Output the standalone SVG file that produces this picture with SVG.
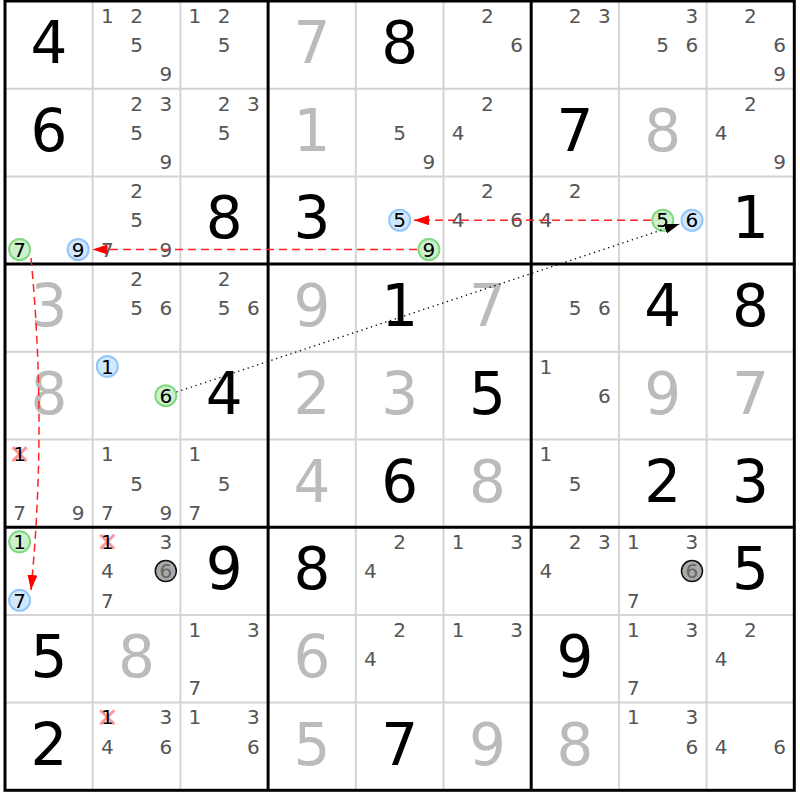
<svg xmlns="http://www.w3.org/2000/svg" width="800" height="800" viewBox="0 0 800 800">
<style>
text{font-family:"DejaVu Sans","Verdana",sans-serif;text-anchor:middle}
.g{font-size:58px;fill:#000}
.s{font-size:58px;fill:#bbb}
.c{font-size:20px;fill:#555}
.h{font-size:20px;fill:#000}
.gc{font-size:20px;fill:#666}
.thin{stroke:#d4d4d4;stroke-width:2;fill:none}
.thick{stroke:#000;stroke-width:3;fill:none}
.cg{fill:#cdf0cd;stroke:#80d880;stroke-width:2}
.cb{fill:#d2e8ff;stroke:#92c6f6;stroke-width:2}
.cy{fill:#aaa;stroke:#111;stroke-width:1.5}
.x{stroke:#f99;stroke-width:3;fill:none}
.red{stroke:#f22;stroke-width:1.5;fill:none;stroke-dasharray:8 5}
.dot{stroke:#000;stroke-width:1.3;fill:none;stroke-dasharray:1.3 3.7}
</style>
<defs>
<marker id="ar" markerUnits="userSpaceOnUse" markerWidth="16" markerHeight="12" refX="15" refY="5" orient="auto"><path d="M0,0 L15,5 L0,10 z" fill="#f00"/></marker>
<marker id="ak" markerUnits="userSpaceOnUse" markerWidth="16" markerHeight="12" refX="15" refY="5" orient="auto"><path d="M0,0 L15,5 L0,10 z" fill="#000"/></marker>
</defs>
<rect x="0" y="0" width="800" height="800" fill="#fff"/>
<g id="grid">
<path class="thin" d="M92.7,1V790.3M180.4,1V790.3M355.8,1V790.3M443.5,1V790.3M618.9,1V790.3M706.6,1V790.3M5,88.7H794.3M5,176.4H794.3M5,351.8H794.3M5,439.5H794.3M5,614.9H794.3M5,702.6H794.3"/>
<path class="thick" d="M268.1,1V790.3M531.2,1V790.3M5,264.1H794.3M5,527.2H794.3"/>
<rect class="thick" x="5" y="1" width="789.3" height="789.3"/>
</g>
<!-- Row 1 -->
<g id="r1c1" transform="translate(5,1)"><text class="g" x="43.85" y="62">4</text></g>
<g id="r1c2" transform="translate(92.7,1)"><text class="c" x="14.6" y="21.9">1</text><text class="c" x="43.85" y="21.9">2</text><text class="c" x="43.85" y="51.1">5</text><text class="c" x="73.1" y="80.4">9</text></g>
<g id="r1c3" transform="translate(180.4,1)"><text class="c" x="14.6" y="21.9">1</text><text class="c" x="43.85" y="21.9">2</text><text class="c" x="43.85" y="51.1">5</text></g>
<g id="r1c4" transform="translate(268.1,1)"><text class="s" x="43.85" y="62">7</text></g>
<g id="r1c5" transform="translate(355.8,1)"><text class="g" x="43.85" y="62">8</text></g>
<g id="r1c6" transform="translate(443.5,1)"><text class="c" x="43.85" y="21.9">2</text><text class="c" x="73.1" y="51.1">6</text></g>
<g id="r1c7" transform="translate(531.2,1)"><text class="c" x="43.85" y="21.9">2</text><text class="c" x="73.1" y="21.9">3</text></g>
<g id="r1c8" transform="translate(618.9,1)"><text class="c" x="73.1" y="21.9">3</text><text class="c" x="43.85" y="51.1">5</text><text class="c" x="73.1" y="51.1">6</text></g>
<g id="r1c9" transform="translate(706.6,1)"><text class="c" x="43.85" y="21.9">2</text><text class="c" x="73.1" y="51.1">6</text><text class="c" x="73.1" y="80.4">9</text></g>
<!-- Row 2 -->
<g id="r2c1" transform="translate(5,88.7)"><text class="g" x="43.85" y="62">6</text></g>
<g id="r2c2" transform="translate(92.7,88.7)"><text class="c" x="43.85" y="21.9">2</text><text class="c" x="73.1" y="21.9">3</text><text class="c" x="43.85" y="51.1">5</text><text class="c" x="73.1" y="80.4">9</text></g>
<g id="r2c3" transform="translate(180.4,88.7)"><text class="c" x="43.85" y="21.9">2</text><text class="c" x="73.1" y="21.9">3</text><text class="c" x="43.85" y="51.1">5</text></g>
<g id="r2c4" transform="translate(268.1,88.7)"><text class="s" x="43.85" y="62">1</text></g>
<g id="r2c5" transform="translate(355.8,88.7)"><text class="c" x="43.85" y="51.1">5</text><text class="c" x="73.1" y="80.4">9</text></g>
<g id="r2c6" transform="translate(443.5,88.7)"><text class="c" x="43.85" y="21.9">2</text><text class="c" x="14.6" y="51.1">4</text></g>
<g id="r2c7" transform="translate(531.2,88.7)"><text class="g" x="43.85" y="62">7</text></g>
<g id="r2c8" transform="translate(618.9,88.7)"><text class="s" x="43.85" y="62">8</text></g>
<g id="r2c9" transform="translate(706.6,88.7)"><text class="c" x="43.85" y="21.9">2</text><text class="c" x="14.6" y="51.1">4</text><text class="c" x="73.1" y="80.4">9</text></g>
<!-- Row 3 -->
<g id="r3c1" transform="translate(5,176.4)"><circle class="cg" cx="14.6" cy="73.1" r="10.5"/><text class="h" x="14.6" y="80.4">7</text><circle class="cb" cx="73.1" cy="73.1" r="10.5"/><text class="h" x="73.1" y="80.4">9</text></g>
<g id="r3c2" transform="translate(92.7,176.4)"><text class="c" x="43.85" y="21.9">2</text><text class="c" x="43.85" y="51.1">5</text><text class="c" x="14.6" y="80.4">7</text><text class="c" x="73.1" y="80.4">9</text></g>
<g id="r3c3" transform="translate(180.4,176.4)"><text class="g" x="43.85" y="62">8</text></g>
<g id="r3c4" transform="translate(268.1,176.4)"><text class="g" x="43.85" y="62">3</text></g>
<g id="r3c5" transform="translate(355.8,176.4)"><circle class="cb" cx="43.85" cy="43.85" r="10.5"/><text class="h" x="43.85" y="51.1">5</text><circle class="cg" cx="73.1" cy="73.1" r="10.5"/><text class="h" x="73.1" y="80.4">9</text></g>
<g id="r3c6" transform="translate(443.5,176.4)"><text class="c" x="43.85" y="21.9">2</text><text class="c" x="14.6" y="51.1">4</text><text class="c" x="73.1" y="51.1">6</text></g>
<g id="r3c7" transform="translate(531.2,176.4)"><text class="c" x="43.85" y="21.9">2</text><text class="c" x="14.6" y="51.1">4</text></g>
<g id="r3c8" transform="translate(618.9,176.4)"><circle class="cg" cx="43.85" cy="43.85" r="10.5"/><text class="h" x="43.85" y="51.1">5</text><circle class="cb" cx="73.1" cy="43.85" r="10.5"/><text class="h" x="73.1" y="51.1">6</text></g>
<g id="r3c9" transform="translate(706.6,176.4)"><text class="g" x="43.85" y="62">1</text></g>
<!-- Row 4 -->
<g id="r4c1" transform="translate(5,264.1)"><text class="s" x="43.85" y="62">3</text></g>
<g id="r4c2" transform="translate(92.7,264.1)"><text class="c" x="43.85" y="21.9">2</text><text class="c" x="43.85" y="51.1">5</text><text class="c" x="73.1" y="51.1">6</text></g>
<g id="r4c3" transform="translate(180.4,264.1)"><text class="c" x="43.85" y="21.9">2</text><text class="c" x="43.85" y="51.1">5</text><text class="c" x="73.1" y="51.1">6</text></g>
<g id="r4c4" transform="translate(268.1,264.1)"><text class="s" x="43.85" y="62">9</text></g>
<g id="r4c5" transform="translate(355.8,264.1)"><text class="g" x="43.85" y="62">1</text></g>
<g id="r4c6" transform="translate(443.5,264.1)"><text class="s" x="43.85" y="62">7</text></g>
<g id="r4c7" transform="translate(531.2,264.1)"><text class="c" x="43.85" y="51.1">5</text><text class="c" x="73.1" y="51.1">6</text></g>
<g id="r4c8" transform="translate(618.9,264.1)"><text class="g" x="43.85" y="62">4</text></g>
<g id="r4c9" transform="translate(706.6,264.1)"><text class="g" x="43.85" y="62">8</text></g>
<!-- Row 5 -->
<g id="r5c1" transform="translate(5,351.8)"><text class="s" x="43.85" y="62">8</text></g>
<g id="r5c2" transform="translate(92.7,351.8)"><circle class="cb" cx="14.6" cy="14.6" r="10.5"/><text class="h" x="14.6" y="21.9">1</text><circle class="cg" cx="73.1" cy="43.85" r="10.5"/><text class="h" x="73.1" y="51.1">6</text></g>
<g id="r5c3" transform="translate(180.4,351.8)"><text class="g" x="43.85" y="62">4</text></g>
<g id="r5c4" transform="translate(268.1,351.8)"><text class="s" x="43.85" y="62">2</text></g>
<g id="r5c5" transform="translate(355.8,351.8)"><text class="s" x="43.85" y="62">3</text></g>
<g id="r5c6" transform="translate(443.5,351.8)"><text class="g" x="43.85" y="62">5</text></g>
<g id="r5c7" transform="translate(531.2,351.8)"><text class="c" x="14.6" y="21.9">1</text><text class="c" x="73.1" y="51.1">6</text></g>
<g id="r5c8" transform="translate(618.9,351.8)"><text class="s" x="43.85" y="62">9</text></g>
<g id="r5c9" transform="translate(706.6,351.8)"><text class="s" x="43.85" y="62">7</text></g>
<!-- Row 6 -->
<g id="r6c1" transform="translate(5,439.5)"><path class="x" d="M7.6,7.6L21.6,21.6M21.6,7.6L7.6,21.6"/><text class="h" x="14.6" y="21.9">1</text><text class="c" x="14.6" y="80.4">7</text><text class="c" x="73.1" y="80.4">9</text></g>
<g id="r6c2" transform="translate(92.7,439.5)"><text class="c" x="14.6" y="21.9">1</text><text class="c" x="43.85" y="51.1">5</text><text class="c" x="14.6" y="80.4">7</text><text class="c" x="73.1" y="80.4">9</text></g>
<g id="r6c3" transform="translate(180.4,439.5)"><text class="c" x="14.6" y="21.9">1</text><text class="c" x="43.85" y="51.1">5</text><text class="c" x="14.6" y="80.4">7</text></g>
<g id="r6c4" transform="translate(268.1,439.5)"><text class="s" x="43.85" y="62">4</text></g>
<g id="r6c5" transform="translate(355.8,439.5)"><text class="g" x="43.85" y="62">6</text></g>
<g id="r6c6" transform="translate(443.5,439.5)"><text class="s" x="43.85" y="62">8</text></g>
<g id="r6c7" transform="translate(531.2,439.5)"><text class="c" x="14.6" y="21.9">1</text><text class="c" x="43.85" y="51.1">5</text></g>
<g id="r6c8" transform="translate(618.9,439.5)"><text class="g" x="43.85" y="62">2</text></g>
<g id="r6c9" transform="translate(706.6,439.5)"><text class="g" x="43.85" y="62">3</text></g>
<!-- Row 7 -->
<g id="r7c1" transform="translate(5,527.2)"><circle class="cg" cx="14.6" cy="14.6" r="10.5"/><text class="h" x="14.6" y="21.9">1</text><circle class="cb" cx="14.6" cy="73.1" r="10.5"/><text class="h" x="14.6" y="80.4">7</text></g>
<g id="r7c2" transform="translate(92.7,527.2)"><path class="x" d="M7.6,7.6L21.6,21.6M21.6,7.6L7.6,21.6"/><text class="h" x="14.6" y="21.9">1</text><text class="c" x="73.1" y="21.9">3</text><text class="c" x="14.6" y="51.1">4</text><circle class="cy" cx="73.1" cy="43.85" r="10.5"/><text class="gc" x="73.1" y="51.1">6</text><text class="c" x="14.6" y="80.4">7</text></g>
<g id="r7c3" transform="translate(180.4,527.2)"><text class="g" x="43.85" y="62">9</text></g>
<g id="r7c4" transform="translate(268.1,527.2)"><text class="g" x="43.85" y="62">8</text></g>
<g id="r7c5" transform="translate(355.8,527.2)"><text class="c" x="43.85" y="21.9">2</text><text class="c" x="14.6" y="51.1">4</text></g>
<g id="r7c6" transform="translate(443.5,527.2)"><text class="c" x="14.6" y="21.9">1</text><text class="c" x="73.1" y="21.9">3</text></g>
<g id="r7c7" transform="translate(531.2,527.2)"><text class="c" x="43.85" y="21.9">2</text><text class="c" x="73.1" y="21.9">3</text><text class="c" x="14.6" y="51.1">4</text></g>
<g id="r7c8" transform="translate(618.9,527.2)"><text class="c" x="14.6" y="21.9">1</text><text class="c" x="73.1" y="21.9">3</text><circle class="cy" cx="73.1" cy="43.85" r="10.5"/><text class="gc" x="73.1" y="51.1">6</text><text class="c" x="14.6" y="80.4">7</text></g>
<g id="r7c9" transform="translate(706.6,527.2)"><text class="g" x="43.85" y="62">5</text></g>
<!-- Row 8 -->
<g id="r8c1" transform="translate(5,614.9)"><text class="g" x="43.85" y="62">5</text></g>
<g id="r8c2" transform="translate(92.7,614.9)"><text class="s" x="43.85" y="62">8</text></g>
<g id="r8c3" transform="translate(180.4,614.9)"><text class="c" x="14.6" y="21.9">1</text><text class="c" x="73.1" y="21.9">3</text><text class="c" x="14.6" y="80.4">7</text></g>
<g id="r8c4" transform="translate(268.1,614.9)"><text class="s" x="43.85" y="62">6</text></g>
<g id="r8c5" transform="translate(355.8,614.9)"><text class="c" x="43.85" y="21.9">2</text><text class="c" x="14.6" y="51.1">4</text></g>
<g id="r8c6" transform="translate(443.5,614.9)"><text class="c" x="14.6" y="21.9">1</text><text class="c" x="73.1" y="21.9">3</text></g>
<g id="r8c7" transform="translate(531.2,614.9)"><text class="g" x="43.85" y="62">9</text></g>
<g id="r8c8" transform="translate(618.9,614.9)"><text class="c" x="14.6" y="21.9">1</text><text class="c" x="73.1" y="21.9">3</text><text class="c" x="14.6" y="80.4">7</text></g>
<g id="r8c9" transform="translate(706.6,614.9)"><text class="c" x="43.85" y="21.9">2</text><text class="c" x="14.6" y="51.1">4</text></g>
<!-- Row 9 -->
<g id="r9c1" transform="translate(5,702.6)"><text class="g" x="43.85" y="62">2</text></g>
<g id="r9c2" transform="translate(92.7,702.6)"><path class="x" d="M7.6,7.6L21.6,21.6M21.6,7.6L7.6,21.6"/><text class="h" x="14.6" y="21.9">1</text><text class="c" x="73.1" y="21.9">3</text><text class="c" x="14.6" y="51.1">4</text><text class="c" x="73.1" y="51.1">6</text></g>
<g id="r9c3" transform="translate(180.4,702.6)"><text class="c" x="14.6" y="21.9">1</text><text class="c" x="73.1" y="21.9">3</text><text class="c" x="73.1" y="51.1">6</text></g>
<g id="r9c4" transform="translate(268.1,702.6)"><text class="s" x="43.85" y="62">5</text></g>
<g id="r9c5" transform="translate(355.8,702.6)"><text class="g" x="43.85" y="62">7</text></g>
<g id="r9c6" transform="translate(443.5,702.6)"><text class="s" x="43.85" y="62">9</text></g>
<g id="r9c7" transform="translate(531.2,702.6)"><text class="s" x="43.85" y="62">8</text></g>
<g id="r9c8" transform="translate(618.9,702.6)"><text class="c" x="14.6" y="21.9">1</text><text class="c" x="73.1" y="21.9">3</text><text class="c" x="73.1" y="51.1">6</text></g>
<g id="r9c9" transform="translate(706.6,702.6)"><text class="c" x="14.6" y="51.1">4</text><text class="c" x="73.1" y="51.1">6</text></g>
<g id="connectors">
<path class="red" d="M417,249.5L92.5,249.5" marker-end="url(#ar)"/>
<path class="red" d="M651,220.25L414,220.25" marker-end="url(#ar)"/>
<path class="red" d="M31,258Q47,425 31,590" marker-end="url(#ar)"/>
<path class="dot" d="M176.5,392L679.5,224" marker-end="url(#ak)"/>
</g>
</svg>
